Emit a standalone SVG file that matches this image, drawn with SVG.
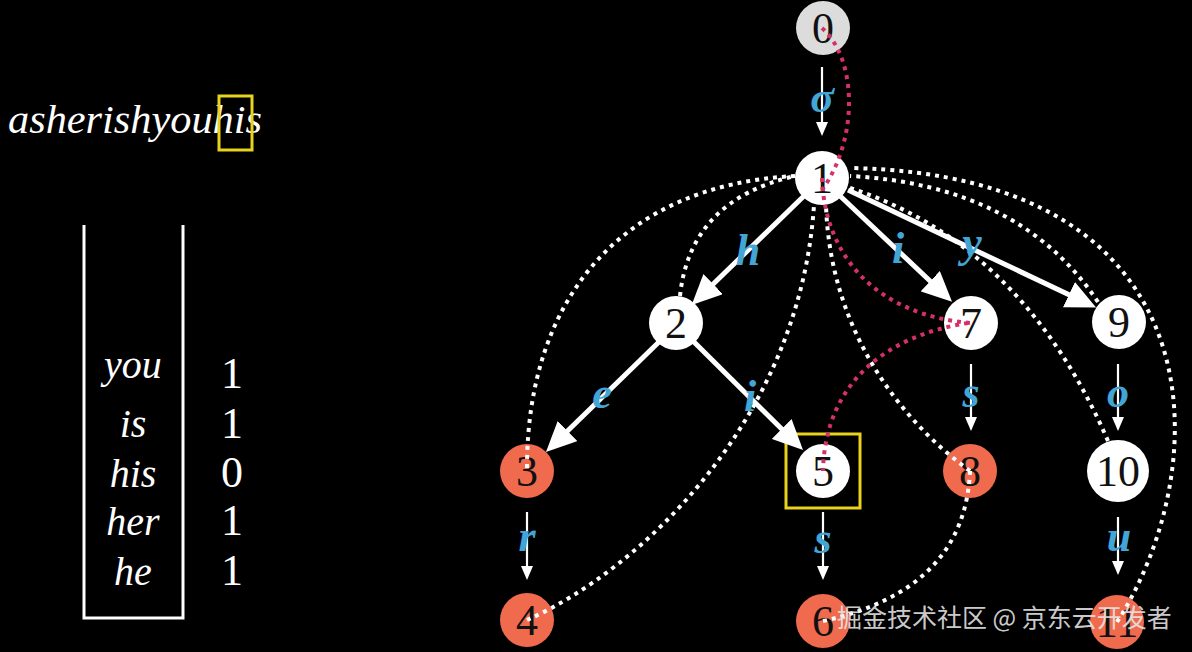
<svg xmlns="http://www.w3.org/2000/svg" width="1192" height="652" viewBox="0 0 1192 652">
<defs>
<style>
.nw{fill:#ffffff}
.ng{fill:#dcdcdc}
.no{fill:#f06a4e}
.nt{font-family:"Liberation Serif",serif;font-size:44px;fill:#111;text-anchor:middle}
.lbl{font-family:"Liberation Serif",serif;font-style:italic;font-weight:bold;font-size:44px;fill:#42a5d5;text-anchor:middle}
.thick{stroke:#fff;stroke-width:5;fill:none;marker-end:url(#hb)}
.thin{stroke:#fff;stroke-width:2.2;fill:none;marker-end:url(#hs)}
.dw{stroke:#fff;stroke-width:4;fill:none;stroke-dasharray:4 5}
.dp{stroke:#d6306a;stroke-width:4;fill:none;stroke-dasharray:4 5}
.word{font-family:"Liberation Serif",serif;font-style:italic;font-size:40px;fill:#fff}
.num{font-family:"Liberation Serif",serif;font-size:44px;fill:#fff;text-anchor:middle}
.ybox{fill:none;stroke:#e8d21e;stroke-width:3}
</style>
<marker id="hb" markerUnits="userSpaceOnUse" viewBox="0 0 30 28" refX="10" refY="14" markerWidth="30" markerHeight="28" orient="auto">
<path d="M0,0 L30,14 L0,28 Z" fill="#fff"/>
</marker>
<marker id="hs" markerUnits="userSpaceOnUse" viewBox="0 0 14 12" refX="4" refY="6" markerWidth="14" markerHeight="12" orient="auto">
<path d="M0,0 L14,6 L0,12 Z" fill="#fff"/>
</marker>
</defs>
<rect width="1192" height="652" fill="#000"/>

<g id="input">
<text class="word" x="8" y="133" textLength="254" lengthAdjust="spacingAndGlyphs">asherishyouhis</text>
<rect class="ybox" x="219" y="96" width="33" height="54"/>
</g>

<g id="stack">
<path d="M84,225 L84,618 L183,618 L183,225" fill="none" stroke="#fff" stroke-width="3"/>
<text class="word" x="133" y="378" text-anchor="middle">you</text>
<text class="word" x="133" y="437" text-anchor="middle">is</text>
<text class="word" x="133" y="487" text-anchor="middle">his</text>
<text class="word" x="133" y="535" text-anchor="middle">her</text>
<text class="word" x="133" y="585" text-anchor="middle">he</text>
<text class="num" x="232" y="388">1</text>
<text class="num" x="232" y="438">1</text>
<text class="num" x="232" y="487">0</text>
<text class="num" x="232" y="535">1</text>
<text class="num" x="232" y="585">1</text>
</g>

<g id="node0"><circle class="ng" cx="823" cy="28" r="27"/><text class="nt" x="823" y="43">0</text></g>
<g id="node1"><circle class="nw" cx="822" cy="178" r="27"/><text class="nt" x="822" y="193">1</text></g>
<g id="node2"><circle class="nw" cx="676" cy="323" r="27"/><text class="nt" x="676" y="338">2</text></g>
<g id="node7"><circle class="nw" cx="971" cy="323" r="27"/><text class="nt" x="971" y="338">7</text></g>
<g id="node9"><circle class="nw" cx="1119" cy="322" r="27"/><text class="nt" x="1119" y="337">9</text></g>
<g id="node3"><circle class="no" cx="527" cy="471" r="27"/><text class="nt" x="527" y="486">3</text></g>
<g id="node5"><circle class="nw" cx="823" cy="471" r="27"/><text class="nt" x="823" y="486">5</text><rect class="ybox" x="786" y="434" width="74" height="74"/></g>
<g id="node8"><circle class="no" cx="970" cy="471" r="27"/><text class="nt" x="970" y="486">8</text></g>
<g id="node10"><circle class="nw" cx="1118" cy="471" r="31"/><text class="nt" x="1118" y="486">10</text></g>
<g id="node4"><circle class="no" cx="527" cy="620" r="27"/><text class="nt" x="527" y="635">4</text></g>
<g id="node6"><circle class="no" cx="823" cy="621" r="27"/><text class="nt" x="823" y="636">6</text></g>
<g id="node11"><circle class="no" cx="1117" cy="622" r="27"/><text class="nt" x="1117" y="637">11</text></g>

<g id="connectors">
<line class="thin" x1="822" y1="67" x2="822" y2="126"/>
<line class="thick" x1="806" y1="194" x2="706" y2="291"/>
<line class="thick" x1="838" y1="194" x2="937.5" y2="288"/>
<line class="thick" x1="848" y1="190" x2="1078" y2="299"/>
<line class="thick" x1="662" y1="339" x2="560.3" y2="438"/>
<line class="thick" x1="691" y1="339" x2="788.8" y2="436"/>
<line class="thin" x1="527" y1="512" x2="527" y2="570"/>
<line class="thin" x1="823" y1="512" x2="823" y2="570"/>
<line class="thin" x1="971" y1="364" x2="971" y2="421"/>
<line class="thin" x1="1118" y1="364" x2="1118" y2="421"/>
<line class="thin" x1="1118" y1="517" x2="1118" y2="565"/>

<path class="dw" d="M680,296 Q690,200 795,176"/>
<path class="dw" d="M527,468 C527,300 620,185 795,176"/>
<path class="dw" d="M527,620 C640,570 800,420 814,205"/>
<path class="dw" d="M970,471 C900,420 830,330 826,205"/>
<path class="dw" d="M823,621 Q965,590 970,471"/>
<path class="dw" d="M1098,302 Q1020,185 850,176"/>
<path class="dw" d="M1108,441 C1060,330 980,230 850,188"/>
<path class="dw" d="M1117,622 C1215,470 1225,175 850,168"/>

<path class="dp" d="M822,28 C858,60 858,140 822,190"/>
<path class="dp" d="M822,178 C825,260 880,315 970,323"/>
<path class="dp" d="M968,323 C890,335 825,380 823,471"/>

<text class="lbl" x="822" y="112">σ</text>
<text class="lbl" x="748" y="265">h</text>
<text class="lbl" x="898" y="263">i</text>
<text class="lbl" x="972" y="257">y</text>
<text class="lbl" x="602" y="408">e</text>
<text class="lbl" x="750" y="411">i</text>
<text class="lbl" x="527" y="551">r</text>
<text class="lbl" x="823" y="553">s</text>
<text class="lbl" x="971" y="407">s</text>
<text class="lbl" x="1118" y="407">o</text>
<text class="lbl" x="1119" y="551">u</text>
</g>

<text x="837" y="627" font-family="'Noto Sans CJK SC','Noto Sans',sans-serif" font-size="25" fill="#e6e6e6" fill-opacity="0.9">掘金技术社区 @ 京东云开发者</text>
</svg>
